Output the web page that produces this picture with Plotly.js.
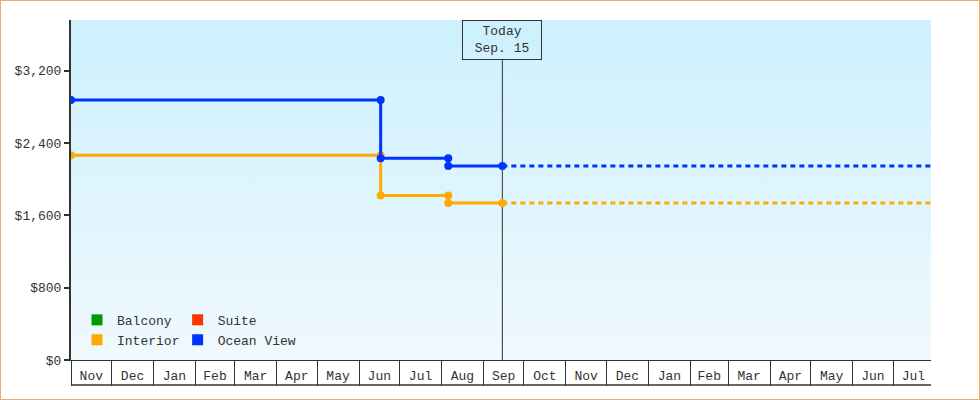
<!DOCTYPE html>
<html>
<head>
<meta charset="utf-8">
<script src="https://cdn.plot.ly/plotly-3.0.1.min.js"></script>
<style>
  html, body { margin: 0; padding: 0; background: #fff; }
  #frame { width: 980px; height: 400px; box-sizing: border-box; border: 1px solid #eeac66; }
  #plot { width: 978px; height: 398px; }
</style>
</head>
<body>
<div id="frame"><div id="plot"></div></div>
<script>
// price history
const oceanDates = ['2023-11-01', '2024-06-17', '2024-06-17', '2024-08-06', '2024-08-06', '2024-09-15'];
const oceanPrices = [2875, 2875, 2230, 2230, 2145, 2145];

const interiorDates = ['2023-11-01', '2024-06-17', '2024-06-17', '2024-08-06', '2024-08-06', '2024-09-15'];
const interiorPrices = [2265, 2265, 1820, 1820, 1735, 1735];

// forecast (dotted) from today to the end of the axis
const today = '2024-09-15';
const axisEnd = '2025-07-29';
const forecastDates = [today, axisEnd];

const legendNames = ['Balcony', 'Interior', 'Suite', 'Ocean View'];
const legendColors = ['#009900', '#ffaa00', '#ff3300', '#0033ff'];
const legendGroups = ['legend', 'legend', 'legend2', 'legend2'];

const BLUE = '#0033ff';
const ORANGE = '#ffaa00';
const INK = '#333333';
const FONT = 'Liberation Mono, DejaVu Sans Mono, monospace';

function history(x, y, color) {
    return {
        type: 'scatter', mode: 'lines+markers',
        x: x, y: y,
        line: {color: color, width: 3},
        marker: {color: color, size: 8},
        showlegend: false, hoverinfo: 'skip'
    };
}

function forecast(lastPrice, color) {
    return {
        type: 'scatter', mode: 'lines',
        x: forecastDates, y: [lastPrice, lastPrice],
        line: {color: color, width: 3, dash: '5px,4px'},
        showlegend: false, hoverinfo: 'skip'
    };
}

const traces = [
    forecast(interiorPrices[interiorPrices.length - 1], ORANGE),
    forecast(oceanPrices[oceanPrices.length - 1], BLUE),
    history(interiorDates, interiorPrices, ORANGE),
    history(oceanDates, oceanPrices, BLUE)
];

// legend-only entries (square swatches)
legendNames.forEach((name, i) => {
    traces.push({
        type: 'scatter', mode: 'markers',
        x: [null], y: [null],
        name: name,
        legend: legendGroups[i],
        marker: {color: legendColors[i], symbol: 'square', size: 11}
    });
});

// vertical gradient for the plot background
const gradient = "data:image/svg+xml;utf8," + encodeURIComponent(
    '<svg xmlns="http://www.w3.org/2000/svg" width="10" height="100" preserveAspectRatio="none">' +
    '<defs><linearGradient id="g" x1="0" y1="0" x2="0" y2="1">' +
    '<stop offset="0" stop-color="#ccf0fd"/><stop offset="1" stop-color="#f0f9fe"/>' +
    '</linearGradient></defs><rect width="10" height="100" fill="url(#g)"/></svg>');

const legendStyle = {
    font: {family: FONT, size: 13, color: INK},
    bgcolor: 'rgba(0,0,0,0)',
    xanchor: 'left', yanchor: 'bottom',
    y: 0.015, itemwidth: 30, tracegroupgap: 0
};

const layout = {
    width: 978, height: 398,
    margin: {l: 70, r: 48, t: 19, b: 39},
    paper_bgcolor: '#ffffff',
    plot_bgcolor: 'rgba(0,0,0,0)',
    font: {family: FONT, size: 13, color: INK},
    showlegend: true,
    legend: Object.assign({}, legendStyle, {x: 0.007}),
    legend2: Object.assign({}, legendStyle, {x: 0.124}),
    xaxis: {
        type: 'date',
        range: ['2023-11-01', axisEnd],
        dtick: 'M1', tick0: '2023-11-01',
        tickformat: '%b',
        ticklabelmode: 'period',
        ticks: 'outside', ticklen: 25, tickwidth: 1, tickcolor: INK,
        ticklabelstandoff: -22,
        showgrid: false, zeroline: false,
        showline: true, linecolor: INK, linewidth: 1,
        tickfont: {family: FONT, size: 13, color: INK}
    },
    yaxis: {
        range: [0, 3760],
        dtick: 800, tick0: 0,
        tickprefix: '$', tickformat: ',d',
        ticks: 'outside', ticklen: 5, tickwidth: 2, tickcolor: INK,
        showgrid: false, zeroline: false,
        showline: true, linecolor: INK, linewidth: 2,
        tickfont: {family: FONT, size: 13, color: INK}
    },
    images: [{
        source: gradient, xref: 'paper', yref: 'paper',
        x: 0, y: 1, sizex: 1, sizey: 1,
        sizing: 'stretch', xanchor: 'left', yanchor: 'top', layer: 'below'
    }],
    shapes: [
        // "today" marker line
        {type: 'line', xref: 'x', yref: 'paper', x0: today, x1: today, y0: 0, y1: 0.882,
         line: {color: INK, width: 1}, layer: 'below'},
        // bottom rule of the month boxes
        {type: 'line', xref: 'paper', yref: 'paper', x0: 0, x1: 1,
         ysizemode: 'pixel', yanchor: 0, y0: -25, y1: -25,
         line: {color: INK, width: 1.5}}
    ],
    annotations: [{
        xref: 'x', yref: 'paper', x: today, y: 1,
        xanchor: 'center', yanchor: 'top',
        text: 'Today<br>Sep. 15', showarrow: false,
        width: 78, height: 38, borderpad: 0,
        bordercolor: INK, borderwidth: 1,
        font: {family: FONT, size: 13, color: INK}
    }]
};

Plotly.newPlot('plot', traces, layout, {staticPlot: true});
</script>
</body>
</html>
